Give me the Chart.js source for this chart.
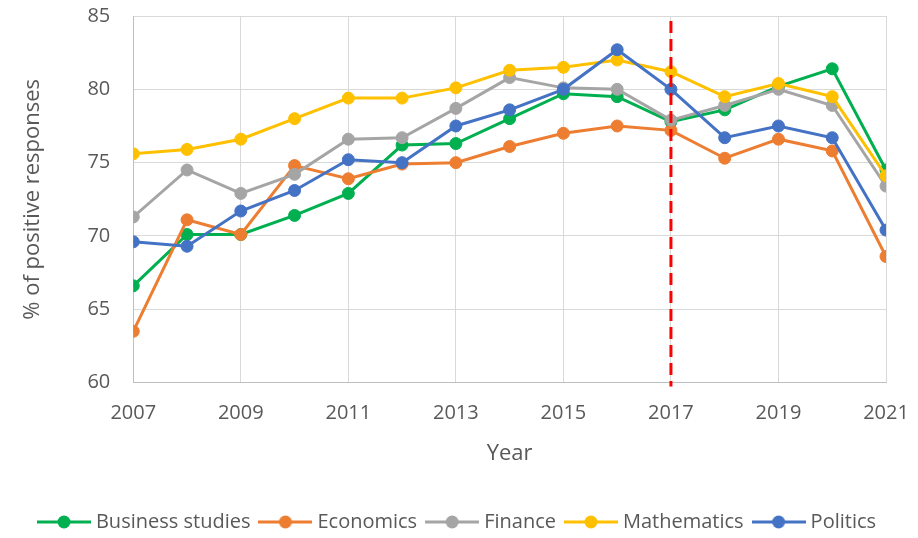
<!DOCTYPE html>
<html lang="en">
<head>
    <meta charset="UTF-8">
    <title>Positive responses by subject</title>
    <style>
        body {
            margin: 0;
            background: #ffffff;
        }
        #chart {
            display: block;
        }
    </style>
</head>
<body>
    <canvas id="chart" width="918" height="538"></canvas>

    <script src="https://cdn.jsdelivr.net/npm/chart.js"></script>
    <script>
        // data
        const years = [2007, 2008, 2009, 2010, 2011, 2012, 2013, 2014, 2015, 2016, 2017, 2018, 2019, 2020, 2021];
        const businessStudies = [66.6, 70.1, 70.1, 71.4, 72.9, 76.2, 76.3, 78.0, 79.7, 79.5, 77.8, 78.6, 80.2, 81.4, 74.5];
        const economics = [63.5, 71.1, 70.1, 74.8, 73.9, 74.9, 75.0, 76.1, 77.0, 77.5, 77.2, 75.3, 76.6, 75.8, 68.6];
        const finance = [71.3, 74.5, 72.9, 74.2, 76.6, 76.7, 78.7, 80.8, 80.1, 80.0, 77.9, 78.9, 80.0, 78.9, 73.4];
        const mathematics = [75.6, 75.9, 76.6, 78.0, 79.4, 79.4, 80.1, 81.3, 81.5, 82.0, 81.2, 79.5, 80.4, 79.5, 74.1];
        const politics = [69.6, 69.3, 71.7, 73.1, 75.2, 75.0, 77.5, 78.6, 80.0, 82.7, 80.0, 76.7, 77.5, 76.7, 70.4];

        const seriesNames = ['Business studies', 'Economics', 'Finance', 'Mathematics', 'Politics'];
        const seriesValues = [businessStudies, economics, finance, mathematics, politics];
        const seriesColors = ['#00B050', '#ED7D31', '#A5A5A5', '#FFC000', '#4472C4'];
        const markerYear = 2017;

        const textColor = '#595959';
        const fontFamily = '"Open Sans", "DejaVu Sans", sans-serif';

        // little line + dot picture for the legend, like the office style
        function legendMarker(color) {
            const c = document.createElement('canvas');
            c.width = 54;
            c.height = 16;
            const g = c.getContext('2d');
            g.strokeStyle = color;
            g.lineWidth = 3;
            g.beginPath();
            g.moveTo(0, 8);
            g.lineTo(54, 8);
            g.stroke();
            g.fillStyle = color;
            g.beginPath();
            g.arc(27, 8, 6.5, 0, Math.PI * 2);
            g.fill();
            return c;
        }

        const datasets = seriesNames.map((name, i) => ({
            label: name,
            data: years.map((y, j) => ({ x: y, y: seriesValues[i][j] })),
            borderColor: seriesColors[i],
            backgroundColor: seriesColors[i],
            pointBackgroundColor: seriesColors[i],
            pointBorderColor: seriesColors[i],
            borderWidth: 3,
            pointRadius: 6,
            pointBorderWidth: 1,
            tension: 0,
            order: seriesNames.length - i   // later series drawn on top
        }));

        // red dashed line at the marker year
        const markerLine = {
            id: 'markerLine',
            afterDatasetsDraw(chart) {
                const x = chart.scales.x.getPixelForValue(markerYear);
                const area = chart.chartArea;
                const ctx = chart.ctx;
                ctx.save();
                ctx.strokeStyle = '#FF0000';
                ctx.lineWidth = 3;
                ctx.setLineDash([12, 6]);
                ctx.beginPath();
                ctx.moveTo(x, area.top + 5);
                ctx.lineTo(x, area.bottom + 4);
                ctx.stroke();
                ctx.restore();
            }
        };

        new Chart(document.getElementById('chart'), {
            type: 'line',
            data: { datasets: datasets },
            options: {
                responsive: false,
                animation: false,
                layout: {
                    // legend keeps 10px of empty space under itself, push it off the bottom edge
                    padding: { left: 0, right: 0, top: 0, bottom: -4 }
                },
                scales: {
                    x: {
                        type: 'linear',
                        min: 2007,
                        max: 2021,
                        grid: { color: '#D9D9D9', lineWidth: 1, drawTicks: false },
                        border: { color: '#BFBFBF', width: 1 },
                        ticks: {
                            stepSize: 2,
                            padding: 19,
                            maxRotation: 0,
                            color: textColor,
                            font: { family: fontFamily, size: 20 },
                            callback: v => String(v)
                        },
                        title: {
                            display: true,
                            text: 'Year',
                            color: textColor,
                            font: { family: fontFamily, size: 22 },
                            padding: { top: -4, bottom: 32 }
                        },
                        // tick padding is counted into the side overhang, drop it
                        afterFit: s => { s.paddingLeft = 0; s.paddingRight = 0; }
                    },
                    y: {
                        min: 60,
                        max: 85,
                        grid: { color: '#D9D9D9', lineWidth: 1, drawTicks: false },
                        border: { color: '#BFBFBF', width: 1 },
                        ticks: {
                            stepSize: 5,
                            padding: 23,
                            color: textColor,
                            font: { family: fontFamily, size: 20 }
                        },
                        title: {
                            display: true,
                            text: '% of positive responses',
                            color: textColor,
                            font: { family: fontFamily, size: 22 },
                            padding: { top: 20, bottom: 18 }
                        },
                        afterFit: s => { s.paddingTop = 16; s.paddingBottom = 0; }
                    },
                    // empty strip on the right so the plot stops where the reference does
                    spacer: {
                        type: 'linear',
                        position: 'right',
                        display: true,
                        grid: { display: false },
                        border: { display: false },
                        ticks: { display: false },
                        afterFit: s => { s.width = 32; }
                    }
                },
                plugins: {
                    legend: {
                        position: 'bottom',
                        labels: {
                            usePointStyle: true,
                            pointStyleWidth: 44,
                            padding: 13,
                            color: textColor,
                            font: { family: fontFamily, size: 20, lineHeight: 0.6 },
                            generateLabels: chart => chart.data.datasets.map((ds, i) => ({
                                text: ds.label,
                                fillStyle: ds.borderColor,
                                strokeStyle: ds.borderColor,
                                lineWidth: 0,
                                pointStyle: legendMarker(ds.borderColor),
                                fontColor: textColor,
                                hidden: false,
                                datasetIndex: i
                            }))
                        }
                    },
                    tooltip: { enabled: false }
                }
            },
            plugins: [markerLine]
        });
    </script>
</body>
</html>
